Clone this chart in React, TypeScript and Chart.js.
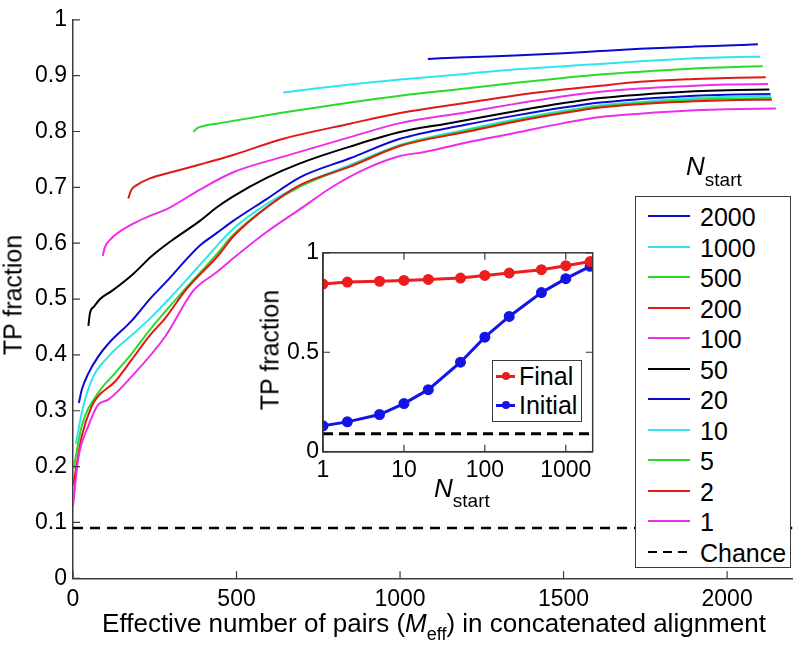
import React, { useEffect, useRef } from 'react';
import { Chart, registerables } from 'chart.js';

Chart.register(...registerables);

const FONT = "'Liberation Sans', Arial, Helvetica, sans-serif";

// ---------- data ----------
const nStartLabels = ['2000', '1000', '500', '200', '100', '50', '20', '10', '5', '2', '1'];

const curve2000: [number, number][] = [[1085,0.930],[1200,0.933],[1350,0.936],[1500,0.940],[1612,0.944],[1734,0.948],[1900,0.952],[2000,0.954],[2094,0.956]];
const curve1000: [number, number][] = [[643,0.870],[700,0.874],[847,0.884],[1000,0.893],[1200,0.903],[1347,0.911],[1500,0.917],[1612,0.921],[1734,0.926],[1900,0.931],[2000,0.933],[2101,0.934]];
const curve500: [number, number][] = [[368,0.799],[380,0.806],[400,0.810],[439,0.814],[643,0.834],[847,0.852],[1000,0.864],[1200,0.877],[1347,0.887],[1500,0.896],[1612,0.902],[1734,0.907],[1900,0.913],[2000,0.915],[2109,0.917]];
const curve200: [number, number][] = [[169,0.680],[178,0.695],[195,0.704],[235,0.716],[300,0.727],[388,0.741],[490,0.758],[643,0.787],[847,0.814],[1000,0.833],[1200,0.851],[1347,0.864],[1500,0.875],[1612,0.882],[1734,0.889],[1900,0.894],[2000,0.896],[2118,0.897]];
const curve100: [number, number][] = [[91,0.577],[97,0.592],[113,0.606],[184,0.635],[235,0.649],[287,0.661],[388,0.696],[490,0.727],[643,0.755],[847,0.790],[1000,0.815],[1200,0.834],[1347,0.849],[1500,0.863],[1612,0.871],[1734,0.877],[1900,0.882],[2000,0.884],[2125,0.885]];
const curve50: [number, number][] = [[47,0.452],[52,0.475],[65,0.487],[83,0.500],[120,0.515],[184,0.545],[241,0.577],[300,0.604],[388,0.640],[439,0.664],[490,0.684],[592,0.717],[694,0.743],[847,0.773],[1000,0.799],[1142,0.814],[1347,0.836],[1500,0.851],[1612,0.860],[1734,0.866],[1900,0.872],[2000,0.874],[2129,0.875]];
const curve20: [number, number][] = [[18,0.314],[27,0.338],[47,0.367],[77,0.397],[108,0.420],[179,0.461],[235,0.500],[287,0.532],[353,0.575],[388,0.596],[439,0.618],[490,0.640],[592,0.679],[694,0.718],[847,0.752],[1000,0.787],[1200,0.812],[1347,0.828],[1500,0.843],[1612,0.852],[1734,0.858],[1900,0.864],[2000,0.866],[2133,0.867]];
const curve10: [number, number][] = [[9,0.241],[27,0.297],[57,0.355],[108,0.397],[179,0.435],[235,0.465],[287,0.496],[388,0.561],[490,0.626],[592,0.670],[700,0.705],[847,0.740],[1000,0.776],[1200,0.803],[1347,0.821],[1500,0.837],[1612,0.847],[1734,0.853],[1900,0.860],[2000,0.862],[2135,0.864]];
const curve5: [number, number][] = [[2,0.197],[27,0.273],[77,0.332],[128,0.367],[179,0.402],[235,0.445],[332,0.511],[439,0.580],[490,0.615],[600,0.668],[700,0.703],[847,0.738],[1000,0.775],[1200,0.801],[1347,0.819],[1500,0.835],[1612,0.845],[1734,0.851],[1900,0.857],[2000,0.859],[2136,0.860]];
const curve2: [number, number][] = [[1,0.167],[27,0.255],[57,0.308],[77,0.326],[128,0.352],[179,0.391],[235,0.435],[281,0.465],[347,0.518],[444,0.578],[490,0.612],[592,0.664],[694,0.704],[847,0.737],[1000,0.774],[1200,0.799],[1347,0.817],[1500,0.833],[1612,0.843],[1734,0.849],[1900,0.854],[2000,0.856],[2137,0.857]];
const curve1: [number, number][] = [[0,0.129],[16,0.214],[47,0.273],[77,0.311],[108,0.320],[179,0.361],[281,0.432],[368,0.515],[439,0.548],[490,0.573],[592,0.620],[694,0.661],[796,0.702],[898,0.734],[1000,0.756],[1071,0.763],[1200,0.780],[1347,0.797],[1500,0.815],[1612,0.826],[1734,0.832],[1900,0.838],[2000,0.840],[2149,0.841]];

const curves = [curve2000, curve1000, curve500, curve200, curve100, curve50, curve20, curve10, curve5, curve2, curve1];

const chanceTP = 0.09;
const xTickValues = [0, 500, 1000, 1500, 2000];
const yTickValues = [0, 0.1, 0.2, 0.3, 0.4, 0.5, 0.6, 0.7, 0.8, 0.9, 1];

const insetN = [1, 2, 5, 10, 20, 50, 100, 200, 500, 1000, 2000];
const finalTP = [0.843, 0.853, 0.857, 0.861, 0.866, 0.873, 0.886, 0.898, 0.915, 0.935, 0.956];
const initialTP = [0.130, 0.150, 0.187, 0.242, 0.312, 0.450, 0.576, 0.680, 0.800, 0.870, 0.932];
const insetXTicks = [1, 10, 100, 1000];
const insetYTicks = [0, 0.5, 1];

// ---------- styles ----------
const BLUE = '#0a0ad0';
const CYAN = '#30e4ee';
const GREEN = '#2bdb2b';
const RED = '#e01818';
const MAGENTA = '#ec2eec';
const BLACK = '#000000';
const curveColors = [BLUE, CYAN, GREEN, RED, MAGENTA, BLACK, BLUE, CYAN, GREEN, RED, MAGENTA];
const AXIS = '#3a3a3a';

const frameTicks = {
  id: 'frameTicks',
  afterDatasetsDraw(chart: any, _args: any, opts: any) {
    const { ctx, chartArea: a, scales } = chart;
    const len = opts.len ?? 7;
    ctx.save();
    ctx.strokeStyle = opts.color ?? AXIS;
    ctx.lineWidth = opts.width ?? 1.2;
    ctx.beginPath();
    for (const t of scales.x.ticks) {
      const px = scales.x.getPixelForValue(t.value);
      ctx.moveTo(px, a.bottom);
      ctx.lineTo(px, a.bottom - len);
      if (opts.box) {
        ctx.moveTo(px, a.top);
        ctx.lineTo(px, a.top + len);
      }
    }
    for (const t of scales.y.ticks) {
      const py = scales.y.getPixelForValue(t.value);
      ctx.moveTo(a.left, py);
      ctx.lineTo(a.left + len, py);
      if (opts.box) {
        ctx.moveTo(a.right, py);
        ctx.lineTo(a.right - len, py);
      }
    }
    ctx.stroke();
    if (opts.box) {
      ctx.lineWidth = 1.5;
      ctx.strokeRect(a.left, a.top, a.right - a.left, a.bottom - a.top);
    }
    ctx.restore();
  },
};

function MainChart() {
  const ref = useRef<HTMLCanvasElement | null>(null);
  useEffect(() => {
    if (!ref.current) return;
    const datasets: any[] = curves.map((c, i) => ({
      label: nStartLabels[i],
      data: c.map(([x, y]) => ({ x, y })),
      borderColor: curveColors[i],
      borderWidth: 2,
      pointRadius: 0,
      fill: false,
      cubicInterpolationMode: 'monotone',
      order: curves.length - i,
    }));
    datasets.push({
      label: 'Chance',
      data: [{ x: 0, y: chanceTP }, { x: 2200, y: chanceTP }],
      borderColor: BLACK,
      borderWidth: 2.5,
      borderDash: [10, 7],
      pointRadius: 0,
      fill: false,
      order: 20,
    });
    const chart = new Chart(ref.current, {
      type: 'line',
      data: { datasets },
      plugins: [frameTicks],
      options: {
        animation: false,
        responsive: false,
        devicePixelRatio: 1,
        layout: { padding: { left: 0, right: 3.5, top: 11, bottom: 0 } },
        plugins: {
          legend: { display: false },
          tooltip: { enabled: false },
          frameTicks: { len: 7, box: false },
        } as any,
        scales: {
          x: {
            type: 'linear',
            min: 0,
            max: 2200,
            afterBuildTicks: (s: any) => { s.ticks = xTickValues.map((v) => ({ value: v })); },
            afterFit: (s: any) => { s.height = 646 - 578.3; },
            ticks: {
              font: { family: FONT, size: 23 },
              color: '#000',
              padding: 8,
              maxRotation: 0,
              callback: (v: any) => String(v),
            },
            grid: { display: true, drawOnChartArea: false, drawTicks: false },
            border: { display: true, color: AXIS, width: 1.5 },
          },
          y: {
            type: 'linear',
            min: 0,
            max: 1,
            afterBuildTicks: (s: any) => { s.ticks = yTickValues.map((v) => ({ value: v })); },
            afterFit: (s: any) => { s.width = 73; },
            ticks: {
              font: { family: FONT, size: 23 },
              color: '#000',
              padding: 6,
              callback: (v: any) => String(Math.round(Number(v) * 10) / 10),
            },
            grid: { display: true, drawOnChartArea: false, drawTicks: false },
            border: { display: true, color: AXIS, width: 1.5 },
          },
        },
      },
    });
    return () => chart.destroy();
  }, []);
  return <canvas ref={ref} width={796} height={646} style={{ position: 'absolute', left: 0, top: 0, width: 796, height: 646 }} />;
}

function InsetChart() {
  const ref = useRef<HTMLCanvasElement | null>(null);
  useEffect(() => {
    if (!ref.current) return;
    const chart = new Chart(ref.current, {
      type: 'line',
      data: {
        datasets: [
          {
            label: 'Chance',
            data: [{ x: 1, y: chanceTP }, { x: 2150, y: chanceTP }],
            borderColor: BLACK,
            borderWidth: 3,
            borderDash: [10, 6],
            pointRadius: 0,
            order: 3,
          },
          {
            label: 'Initial',
            data: insetN.map((n, i) => ({ x: n, y: initialTP[i] })),
            borderColor: '#1414e6',
            backgroundColor: '#1414e6',
            pointBackgroundColor: '#1414e6',
            pointBorderColor: '#1414e6',
            borderWidth: 3,
            pointRadius: 4,
            order: 2,
          },
          {
            label: 'Final',
            data: insetN.map((n, i) => ({ x: n, y: finalTP[i] })),
            borderColor: '#ee1c1c',
            backgroundColor: '#ee1c1c',
            pointBackgroundColor: '#ee1c1c',
            pointBorderColor: '#ee1c1c',
            borderWidth: 3,
            pointRadius: 4,
            order: 1,
          },
        ] as any,
      },
      plugins: [frameTicks],
      options: {
        animation: false,
        responsive: false,
        devicePixelRatio: 1,
        layout: { padding: { left: 0, right: 17.3, top: 17, bottom: 0 } },
        plugins: {
          legend: { display: false },
          tooltip: { enabled: false },
          frameTicks: { len: 7, box: true },
        } as any,
        scales: {
          x: {
            type: 'logarithmic',
            min: 1,
            max: 2150,
            afterBuildTicks: (s: any) => { s.ticks = insetXTicks.map((v) => ({ value: v })); },
            afterFit: (s: any) => { s.height = 275 - 216.7; },
            ticks: {
              font: { family: FONT, size: 23 },
              color: '#000',
              padding: 5,
              maxRotation: 0,
              callback: (v: any) => String(v),
            },
            grid: { display: true, drawOnChartArea: false, drawTicks: false },
            border: { display: true, color: AXIS, width: 1.5 },
          },
          y: {
            type: 'linear',
            min: 0,
            max: 1,
            afterBuildTicks: (s: any) => { s.ticks = insetYTicks.map((v) => ({ value: v })); },
            afterFit: (s: any) => { s.width = 73; },
            ticks: {
              font: { family: FONT, size: 23 },
              color: '#000',
              padding: 4,
              callback: (v: any) => String(v),
            },
            grid: { display: true, drawOnChartArea: false, drawTicks: false },
            border: { display: true, color: AXIS, width: 1.5 },
          },
        },
      },
    });
    return () => chart.destroy();
  }, []);
  return <canvas ref={ref} width={360} height={275} style={{ position: 'absolute', left: 250, top: 235, width: 360, height: 275 }} />;
}

const textBase: React.CSSProperties = {
  position: 'absolute',
  fontFamily: FONT,
  color: '#000',
  whiteSpace: 'nowrap',
  lineHeight: 1,
};

function NStart({ left, top, size, sub, shift }: { left: number; top: number; size: number; sub: number; shift: number }) {
  return (
    <div style={{ ...textBase, left, top, fontSize: size }}>
      <i>N</i>
      <span style={{ fontSize: sub, position: 'relative', top: shift }}>start</span>
    </div>
  );
}

function MainLegend() {
  const rows = nStartLabels.length + 1;
  return (
    <div style={{ position: 'absolute', left: 635, top: 196, width: 156, height: 372, border: `1.5px solid ${AXIS}`, background: '#fff', boxSizing: 'border-box' }}>
      {Array.from({ length: rows }).map((_, i) => {
        const isChance = i === nStartLabels.length;
        const label = isChance ? 'Chance' : nStartLabels[i];
        const cy = 19 + i * 30.5;
        return (
          <div key={i} style={{ position: 'absolute', left: 0, top: cy - 15, height: 30, width: 156 }}>
            {isChance ? (
              [0, 15, 30].map((dx) => (
                <div key={dx} style={{ position: 'absolute', left: 12 + dx, top: 14, width: 9, height: 0, borderTop: '2.5px solid #000' }} />
              ))
            ) : (
              <div style={{ position: 'absolute', left: 12, top: 14, width: 42, height: 0, borderTop: `2.5px solid ${curveColors[i]}` }} />
            )}
            <div style={{ ...textBase, left: 64, top: 2, fontSize: 25, lineHeight: '28px' }}>{label}</div>
          </div>
        );
      })}
    </div>
  );
}

function InsetLegend() {
  const items = [
    { label: 'Final', color: '#ee1c1c' },
    { label: 'Initial', color: '#1414e6' },
  ];
  return (
    <div style={{ position: 'absolute', left: 492, top: 360, width: 90, height: 62, border: `1.5px solid ${AXIS}`, background: '#fff', boxSizing: 'border-box' }}>
      {items.map((it, i) => {
        const cy = 15 + i * 29;
        return (
          <div key={i}>
            <div style={{ position: 'absolute', left: 3, top: cy - 1.5, width: 19, height: 0, borderTop: `3px solid ${it.color}` }} />
            <div style={{ position: 'absolute', left: 8.5, top: cy - 4, width: 8, height: 8, borderRadius: 4, background: it.color }} />
            <div style={{ ...textBase, left: 26, top: cy - 14, fontSize: 25, lineHeight: '28px' }}>{it.label}</div>
          </div>
        );
      })}
    </div>
  );
}

export default function App() {
  return (
    <div style={{ position: 'absolute', left: 0, top: 0, width: 796, height: 646, background: '#fff', overflow: 'hidden' }}>
      <MainChart />
      <InsetChart />
      <MainLegend />
      <InsetLegend />
      {/* main axis titles */}
      <div style={{ ...textBase, left: 13, top: 295, fontSize: 25, transform: 'translate(-50%, -50%) rotate(-90deg)' }}>TP fraction</div>
      <div style={{ ...textBase, left: 434, top: 610, fontSize: 26, transform: 'translateX(-50%)' }}>
        Effective number of pairs (<i>M</i>
        <span style={{ fontSize: 18, position: 'relative', top: 8 }}>eff</span>) in concatenated alignment
      </div>
      <NStart left={686} top={153} size={26} sub={19} shift={11} />
      {/* inset axis titles */}
      <div style={{ ...textBase, left: 270, top: 350, fontSize: 25, transform: 'translate(-50%, -50%) rotate(-90deg)' }}>TP fraction</div>
      <NStart left={434} top={475} size={26} sub={19} shift={10} />
    </div>
  );
}
